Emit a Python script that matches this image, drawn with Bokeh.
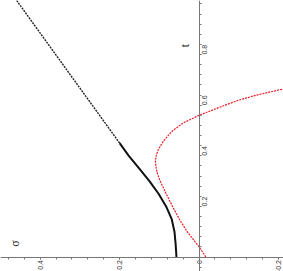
import math
from bokeh.plotting import figure
from bokeh.models import (Range1d, LinearAxis, SingleIntervalTicker, CustomJSTickFormatter, Label)
from bokeh.embed import file_html
from bokeh.resources import INLINE

# black curve sigma(t)
black_t = [0, 0.05, 0.1, 0.15, 0.2, 0.25, 0.3, 0.35, 0.4, 0.45, 0.5, 0.6, 0.7, 0.8, 0.9, 1.0, 1.02]
black_s = [0.057, 0.059, 0.062, 0.069, 0.083, 0.102, 0.125, 0.151, 0.177, 0.200, 0.223, 0.269, 0.315, 0.361, 0.407, 0.453, 0.462]

# red curve (parametric, in order)
red_t = [0, 0.04, 0.1, 0.15, 0.2, 0.25, 0.3, 0.33, 0.36, 0.38, 0.40, 0.42, 0.44, 0.46, 0.48, 0.5, 0.53, 0.56, 0.6, 0.62, 0.64, 0.66, 0.67]
red_s = [-0.017, 0.0, 0.03, 0.05, 0.067, 0.083, 0.098, 0.105, 0.109, 0.110, 0.108, 0.104, 0.097, 0.089, 0.078, 0.066, 0.04, 0.0, -0.065, -0.1, -0.145, -0.2, -0.23]

split = 9  # index where the curve turns into its straight part

p = figure(width=283, height=271, output_backend="svg", toolbar_location=None,
           x_range=Range1d(0.5, -0.2125), y_range=Range1d(-0.0573, 1.0138),
           x_axis_location=None, y_axis_location=None, min_border=0)
p.outline_line_color = None
p.xgrid.visible = False
p.ygrid.visible = False
p.background_fill_color = "white"

fmt = CustomJSTickFormatter(code="""
if (Math.abs(tick) < 1e-9) return "0";
if (Math.abs(tick - 1) < 1e-9) return "";
return tick.toFixed(1);
""")
fmt_t = CustomJSTickFormatter(code="""
if (Math.abs(tick) < 1e-9) return "";
if (Math.abs(tick - 1) < 1e-9) return "";
return tick.toFixed(1);
""")

xa = LinearAxis(fixed_location=0, ticker=SingleIntervalTicker(interval=0.2, num_minor_ticks=5),
                formatter=fmt, major_label_orientation=math.pi / 2)
ya = LinearAxis(fixed_location=0, ticker=SingleIntervalTicker(interval=0.2, num_minor_ticks=5),
                formatter=fmt_t, major_label_orientation=math.pi / 2)
for ax in (xa, ya):
    ax.axis_line_color = "#777777"
    ax.axis_line_width = 1
    ax.major_tick_line_color = "#777777"
    ax.minor_tick_line_color = "#777777"
    ax.major_tick_out = 2
    ax.major_tick_in = 0
    ax.minor_tick_out = 2
    ax.minor_tick_in = 0
    ax.major_label_text_font = "Liberation Sans"
    ax.major_label_text_font_size = "7px"
    ax.major_label_text_color = "#333333"
    ax.major_label_standoff = 1
ya.major_label_standoff = 3
p.add_layout(xa, "below")
p.add_layout(ya, "right")

p.line(black_s[:split + 1], black_t[:split + 1], line_color="#111111", line_width=2)
p.line(black_s[split:], black_t[split:], line_color="#222222", line_width=1.4, line_dash="2 1")
p.line(red_s, red_t, line_color="#ee1c24", line_width=1.2, line_dash="2 1")

p.add_layout(Label(x=0.035, y=0.836, text="t", angle=math.pi / 2, text_align="center",
                   text_baseline="middle", text_font="Liberation Serif", text_font_size="12px",
                   text_color="#222222"))
p.add_layout(Label(x=0.4625, y=0.053, text="σ", angle=math.pi / 2, text_align="center",
                   text_baseline="middle", text_font="Liberation Serif", text_font_size="12px",
                   text_color="#222222"))

open("out.html", "w").write(file_html(p, INLINE))
